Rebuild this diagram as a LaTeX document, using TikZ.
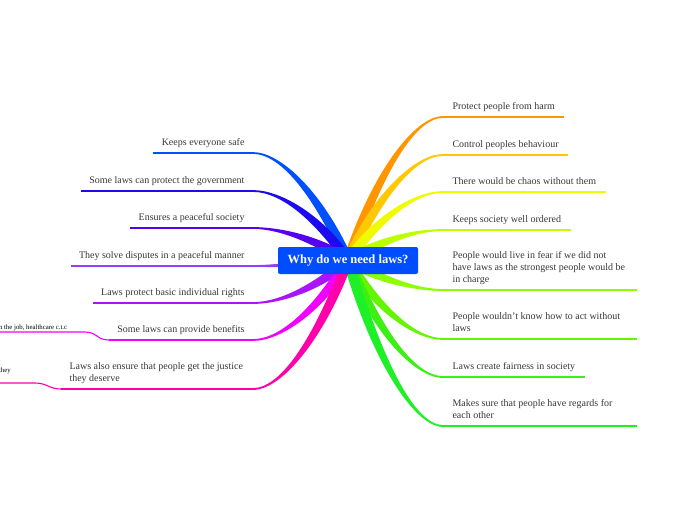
\documentclass[tikz,border=0pt]{standalone}
\usepackage{fontspec}
\setmainfont{Liberation Serif}
\usetikzlibrary{calc}

\definecolor{rootblue}{RGB}{0,76,255}
\definecolor{txtgrey}{RGB}{55,55,55}
\definecolor{cL1}{RGB}{0,80,255}
\definecolor{cL2}{RGB}{30,10,240}
\definecolor{cL3}{RGB}{85,0,238}
\definecolor{cL4}{RGB}{150,60,255}
\definecolor{cL5}{RGB}{170,20,250}
\definecolor{cL6}{RGB}{240,0,255}
\definecolor{cL7}{RGB}{255,0,170}
\definecolor{cR1}{RGB}{255,150,0}
\definecolor{cR2}{RGB}{255,200,0}
\definecolor{cR3}{RGB}{240,250,0}
\definecolor{cR4}{RGB}{190,255,0}
\definecolor{cR5}{RGB}{140,255,0}
\definecolor{cR6}{RGB}{100,245,0}
\definecolor{cR7}{RGB}{60,240,20}
\definecolor{cR8}{RGB}{30,240,40}

\pgfdeclarelayer{bg}
\pgfsetlayers{bg,main}

% tapered branch from the root to the end of an underline
\newcommand{\branch}[2]{%
  \path let \p1=(root.center), \p2=(#2) in
    ({\x1+0.3*(\x2-\x1)},{\y1+0.6*(\y2-\y1)}) coordinate (c1)
    ({\x2-0.3*(\x2-\x1)},\y2) coordinate (c2);
  \path ($(root.center)!5pt!90:(c1)$) coordinate (pA)
        ($(root.center)!5pt!-90:(c1)$) coordinate (pB)
        ($(#2)!0.9pt!-90:(c2)$) coordinate (qA)
        ($(#2)!0.9pt!90:(c2)$) coordinate (qB);
  \fill[fill=#1] (pA) .. controls ($(c1)+(pA)-(root.center)$) and ($(c2)+(qA)-(#2)$) .. (qA)
    -- (qB) .. controls ($(c2)+(qB)-(#2)$) and ($(c1)+(pB)-(root.center)$) .. (pB) -- cycle;
}

\begin{document}
\begin{tikzpicture}[x=1pt, y=-1pt,
    topic/.style={
        font=\fontsize{10}{12}\selectfont,
        text=txtgrey,
        inner ysep=4.4pt,
        outer sep=0pt,
        execute at end node=\strut
    },
    topicR/.style={topic, anchor=south west, inner xsep=9.5pt, align=flush left},
    topicL/.style={topic, anchor=south east, inner xsep=8.5pt, align=flush right},
    wide/.style={text width=175pt},
    subtopic/.style={
        font=\fontsize{6.8}{8}\selectfont,
        text=black,
        inner sep=0pt,
        outer sep=0pt,
        anchor=south west,
        align=flush left,
        execute at end node=\strut
    },
    root/.style={
        fill=rootblue,
        rounded corners=2pt,
        text=white,
        font=\fontsize{12.5}{15}\selectfont\bfseries,
        minimum width=140pt,
        minimum height=27pt,
        inner sep=0pt
    },
    uline/.style={line width=1.3pt},
    subline/.style={line width=1.1pt}
]
\useasboundingbox (0,0) rectangle (696,520);

\node[root] (root) at (348,260.5) {Why do we need laws?};

% right side
\node[topicR] (r1) at (443,117) {Protect people from harm};
\node[topicR] (r2) at (443,155) {Control peoples behaviour};
\node[topicR] (r3) at (443,192) {There would be chaos without them};
\node[topicR] (r4) at (443,230) {Keeps society well ordered};
\node[topicR, wide] (r5) at (443,290) {People would live in fear if we did not\\have laws as the strongest people would be\\in charge};
\node[topicR, wide] (r6) at (443,339) {People wouldn't know how to act without\\laws};
\node[topicR] (r7) at (443,377) {Laws create fairness in society};
\node[topicR, wide] (r8) at (443,426) {Makes sure that people have regards for\\each other};

% left side
\node[topicL] (l1) at (253,153) {Keeps everyone safe};
\node[topicL] (l2) at (253,191) {Some laws can protect the government};
\node[topicL] (l3) at (253,228) {Ensures a peaceful society};
\node[topicL] (l4) at (253,266) {They solve disputes in a peaceful manner};
\node[topicL] (l5) at (253,303) {Laws protect basic individual rights};
\node[topicL] (l6) at (253,340) {Some laws can provide benefits};
\node[topicL, wide, align=flush left] (l7) at (253,389) {Laws also ensure that people get the justice\\they deserve};

% sub topics, cut by the left edge
\node[subtopic, text width=86pt] (s6) at (-1,332) {n the job, healthcare c.t.c};
\node[subtopic, text width=36pt, text depth=10.5pt] (s7) at (-1,383) {they};

\foreach \nd/\col in {r1/cR1,r2/cR2,r3/cR3,r4/cR4,r5/cR5,r6/cR6,r7/cR7,r8/cR8,
                     l1/cL1,l2/cL2,l3/cL3,l4/cL4,l5/cL5,l6/cL6,l7/cL7}
    \draw[uline, draw=\col] (\nd.south west) -- (\nd.south east);

\draw[subline, draw=cL6] (s6.south west) -- (s6.south east) .. controls +(12,0) and +(-12,0) .. (l6.south west);
\draw[subline, draw=cL7] (s7.south west) -- (s7.south east) .. controls +(12,0) and +(-12,0) .. (l7.south west);

\begin{pgfonlayer}{bg}
\foreach \nd/\col in {r1/cR1,r2/cR2,r3/cR3,r4/cR4,r5/cR5,r6/cR6,r7/cR7,r8/cR8}
    {\branch{\col}{\nd.south west}}
\foreach \nd/\col in {l1/cL1,l2/cL2,l3/cL3,l4/cL4,l5/cL5,l6/cL6,l7/cL7}
    {\branch{\col}{\nd.south east}}
\end{pgfonlayer}
\end{tikzpicture}
\end{document}
